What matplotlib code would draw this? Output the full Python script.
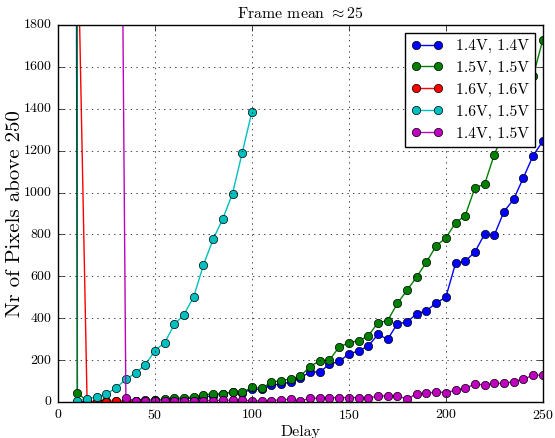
import matplotlib
matplotlib.use("Agg")
import matplotlib.pyplot as plt

# pixel counts above threshold vs. delay, one run per voltage pair
delay = list(range(5, 255, 5))

px_14_14 = [20000, 2, 1, 1, 2, 2, 3, 4, 6, 8, 10, 13, 16, 20, 25, 30, 38, 50, 45,
            60, 62, 80, 86, 95, 116, 143, 143, 180, 194, 229, 244, 267, 323, 299,
            374, 381, 422, 435, 473, 500, 662, 672, 716, 802, 797, 909, 968, 1071,
            1176, 1245]
px_15_15 = [80000, 45, 2, 2, 3, 3, 4, 6, 8, 10, 13, 17, 20, 25, 33, 40, 38, 48, 46,
            70, 65, 95, 102, 110, 124, 169, 197, 200, 263, 283, 293, 315, 379, 388,
            471, 533, 598, 667, 746, 783, 855, 890, 1023, 1040, 1181, 1290, 1370,
            1460, 1555, 1729]
delay_16_16 = [10, 15, 20, 25, 30, 35, 40, 45]
px_16_16 = [2340, 3, 2, 2, 3, 2, 2, 2]
delay_16_15 = list(range(10, 105, 5))
px_16_15 = [6, 14, 25, 38, 68, 108, 138, 178, 245, 283, 371, 417, 503, 654, 777,
            875, 995, 1190, 1386]
delay_14_15 = list(range(30, 255, 5))
px_14_15 = [5900, 18, 6, 6, 6, 5, 5, 6, 6, 7, 7, 8, 8, 8,
            6, 5, 6, 11, 12, 5, 18, 18, 20, 20, 21, 20, 18, 29, 29, 30, 14, 40,
            41, 48, 45, 56, 65, 86, 81, 89, 89, 97, 110, 127, 129]

plt.style.use("classic")
plt.rcParams["font.family"] = "cmr10"
plt.rcParams["mathtext.fontset"] = "cm"
plt.rcParams["axes.formatter.use_mathtext"] = True
plt.rcParams["font.size"] = 11

fig = plt.figure(figsize=(5.55, 4.38), dpi=100, facecolor="white")
ax = fig.add_axes([0.1045, 0.0822, 0.8735, 0.8608])

ax.plot(delay, px_14_14, "bo-", label="1.4V, 1.4V")
ax.plot(delay, px_15_15, "go-", label="1.5V, 1.5V")
ax.plot(delay_16_16, px_16_16, "ro-", label="1.6V, 1.6V")
ax.plot(delay_16_15, px_16_15, "co-", label="1.6V, 1.5V")
ax.plot(delay_14_15, px_14_15, "mo-", label="1.4V, 1.5V")

ax.set_xlim(0, 250)
ax.set_ylim(0, 1800)
ax.set_xticks(range(0, 251, 50))
ax.set_yticks(range(0, 1801, 200))
ax.tick_params(labelsize=10)
ax.grid(True)
ax.set_xlabel("Delay", fontsize=11.5)
ax.set_ylabel("Nr of Pixels above 250", fontsize=15)
ax.xaxis.set_label_coords(0.5, -0.062)
ax.yaxis.set_label_coords(-0.07, 0.5)
ax.set_title(r"Frame mean $\approx 25$", fontsize=11.4)
ax.legend(loc="upper right", fontsize=11.3)

fig.savefig("out.png", dpi=100, facecolor="white")
